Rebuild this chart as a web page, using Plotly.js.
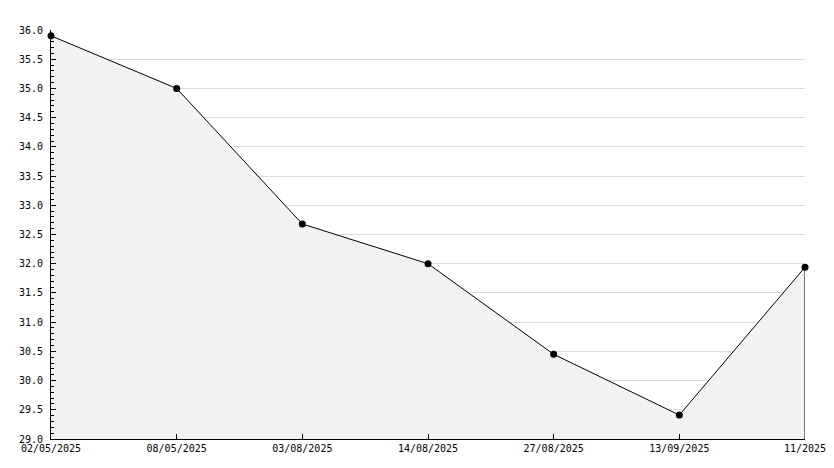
<!DOCTYPE html>
<html>
<head>
<meta charset="utf-8">
<script src="https://cdn.plot.ly/plotly-3.0.1.min.js"></script>
<style>html,body{margin:0;padding:0;background:#fff}#chart{width:834px;height:468px}</style>
</head>
<body>
<div id="chart"></div>
<script>
const dates = ["02/05/2025", "08/05/2025", "03/08/2025", "14/08/2025", "27/08/2025", "13/09/2025", "11/2025"];
const values = [35.9, 35.0, 32.68, 32.0, 30.45, 29.41, 31.94];
const yMin = 29.0;
const yMax = 36.0;

const last = dates.length - 1;
const traces = [
  {
    x: dates, y: values, type: 'scatter', mode: 'lines+markers',
    fill: 'tozeroy', fillcolor: '#f2f2f2',
    line: {color: '#000', width: 1},
    marker: {color: '#000', size: 7, symbol: 'circle'},
    cliponaxis: false,
    hoverinfo: 'x+y', showlegend: false
  },
  {
    x: [dates[last], dates[last]], y: [yMin, values[last]], type: 'scatter', mode: 'lines',
    line: {color: '#000', width: 1}, hoverinfo: 'skip', showlegend: false
  }
];

const font = {family: 'DejaVu Sans Mono, monospace', size: 10, color: '#000'};
const layout = {
  width: 834, height: 468,
  margin: {l: 51, r: 29, t: 30, b: 29},
  paper_bgcolor: '#fff', plot_bgcolor: '#fff',
  font: font,
  showlegend: false,
  xaxis: {
    type: 'category', range: [0, last],
    showgrid: false, zeroline: false,
    showline: true, linecolor: '#000', linewidth: 1,
    ticks: 'inside', ticklen: 5, tickcolor: '#000', tickwidth: 1,
    tickfont: font, fixedrange: true
  },
  yaxis: {
    range: [yMin, yMax], dtick: 0.5, tick0: 29, tickformat: '.1f',
    showgrid: true, gridcolor: '#dcdcdc', gridwidth: 1, zeroline: false,
    showline: true, linecolor: '#000', linewidth: 1,
    ticks: 'inside', ticklen: 5, tickcolor: '#000', tickwidth: 1,
    ticklabelstandoff: 5,
    minor: {ticks: 'inside', ticklen: 3, dtick: 0.1, tickcolor: '#000', showgrid: false},
    tickfont: font, fixedrange: true
  }
};

Plotly.newPlot('chart', traces, layout, {displayModeBar: false, staticPlot: true});
</script>
</body>
</html>
